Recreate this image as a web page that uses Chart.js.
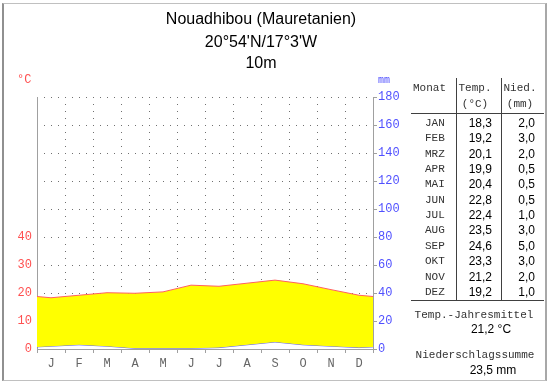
<!DOCTYPE html>
<html>
<head>
<meta charset="utf-8">
<script src="https://cdn.jsdelivr.net/npm/chart.js@4.4.0/dist/chart.umd.min.js"></script>
<style>
  body { margin: 0; background: #fff; }
  #wrap { position: relative; width: 550px; height: 384px; overflow: hidden; }
  #frame { position: absolute; left: 2px; top: 3px; width: 545px; height: 378px; box-sizing: border-box;
           border: 1px solid #c0c0c0; border-left: 2px solid #909090; border-right: 2px solid #a8a8a8; }
  #chart-box { position: absolute; left: 0; top: 0; width: 550px; height: 384px; }
  .t { position: absolute; white-space: nowrap; }
  .mono { font-family: "Liberation Mono", "DejaVu Sans Mono", monospace; font-size: 11px; color: #333; }
  .sans { font-family: "Liberation Sans", Arial, sans-serif; font-size: 12px; color: #000; }
  .title { font-family: "Liberation Sans", Arial, sans-serif; font-size: 16px; color: #000; left: 0; width: 522px; text-align: center; }
  .ln { position: absolute; background: #404040; }
</style>
</head>
<body>
<div id="wrap">
  <div id="chart-box"><canvas id="climate"></canvas></div>
  <div id="frame"></div>
  <div class="t title" style="top:8px;line-height:22px">Nouadhibou (Mauretanien)</div>
  <div class="t title" style="top:31px;line-height:22px">20°54'N/17°3'W</div>
  <div class="t title" style="top:52px;line-height:22px">10m</div>
  <div class="t mono" style="left:17px;top:73px;line-height:14px;font-size:12px;color:#ff5050">°C</div>
  <div class="t mono" style="left:378px;top:75px;line-height:12px;font-size:10px;color:#5050ff">mm</div>
  <div id="table"></div>
</div>

<script>
const months = ["J","F","M","A","M","J","J","A","S","O","N","D"]
const monthNames = ["JAN","FEB","MRZ","APR","MAI","JUN","JUL","AUG","SEP","OKT","NOV","DEZ"]
const temps = [18.3,19.2,20.1,19.9,20.4,22.8,22.4,23.5,24.6,23.3,21.2,19.2]
const precip = [2.0,3.0,2.0,0.5,0.5,0.5,1.0,3.0,5.0,3.0,2.0,1.0]
const tempTicks = [0,10,20,30,40]
const precipTicks = [0,20,40,60,80,100,120,140,160,180]
const meanTemp = "21,2 °C"
const precipSum = "23,5 mm"

// points at month centres, plus Dec before Jan and Jan after Dec so the curve runs to the edges
function wrapPoints(values){
  const pts = [{x: -0.5, y: values[11]}]
  values.forEach((v, i) => pts.push({x: i + 0.5, y: v}))
  pts.push({x: 12.5, y: values[0]})
  return pts
}

const fmt = v => v.toFixed(1).replace(".", ",")

// right hand table
const table = document.getElementById('table')
function put(text, cls, x, y, align, extra){
  const d = document.createElement('div')
  d.className = 't ' + cls
  d.textContent = text
  d.style.top = (y - 8) + 'px'
  d.style.lineHeight = '16px'
  if (align === 'right'){ d.style.left = (x - 120) + 'px'; d.style.width = '120px'; d.style.textAlign = 'right' }
  else if (align === 'center'){ d.style.left = (x - 80) + 'px'; d.style.width = '160px'; d.style.textAlign = 'center' }
  else d.style.left = x + 'px'
  if (extra) Object.assign(d.style, extra)
  table.appendChild(d)
}
function line(x, y, w, h){
  const d = document.createElement('div')
  d.className = 'ln'
  Object.assign(d.style, {left: x + 'px', top: y + 'px', width: w + 'px', height: h + 'px'})
  table.appendChild(d)
}

put("Monat", "mono", 413, 88)
put("Temp.", "mono", 475, 88, 'center')
put("(°C)", "mono", 475, 104, 'center')
put("Nied.", "mono", 520, 88, 'center')
put("(mm)", "mono", 520, 104, 'center')
monthNames.forEach((m, i) => {
  const y = 123 + i * 15.35
  put(m, "mono", 425, y)
  put(fmt(temps[i]), "sans", 492, y, 'right')
  put(fmt(precip[i]), "sans", 535, y, 'right')
})
put("Temp.-Jahresmittel", "mono", 474, 315, 'center')
put(meanTemp, "sans", 491, 329, 'center')
put("Niederschlagssumme", "mono", 475, 355, 'center')
put(precipSum, "sans", 493, 370, 'center')
line(411, 113, 133, 1)
line(411, 300, 133, 1)
line(456, 78, 1, 222)
line(501, 78, 1, 222)

const gridGray = "#707070"
const axisGray = "#a0a0a0"

new Chart("climate", {
  type: "line",
  data: {
    labels: months,
    datasets: [
      {label: "Temperatur", data: wrapPoints(temps), xAxisID: "xl", yAxisID: "yt",
       borderColor: "#ff6060", borderWidth: 1, pointRadius: 0, tension: 0,
       fill: {target: 1}, backgroundColor: "#ffff00"},
      {label: "Niederschlag", data: wrapPoints(precip), xAxisID: "xl", yAxisID: "y",
       borderColor: "#6060ff", borderWidth: 1, pointRadius: 0, tension: 0, fill: false}
    ]
  },
  options: {
    responsive: true, maintainAspectRatio: false, animation: false,
    layout: {padding: {top: 97, right: 137, bottom: 0, left: 0}},
    plugins: {legend: {display: false}, tooltip: {enabled: false}},
    scales: {
      x: {type: "category", offset: true,
          grid: {offset: true, color: gridGray, tickBorderDash: [], tickColor: axisGray, tickLength: 4, drawTicks: true},
          border: {color: axisGray, dash: [1, 6]},
          ticks: {color: "#666", padding: 4, maxRotation: 0, autoSkip: false, font: {family: "Liberation Mono", size: 12}},
          afterFit: s => { s.height = 35 }},
      xl: {type: "linear", min: 0, max: 12, display: false},
      yt: {position: "left", min: 0, max: 90,
           afterBuildTicks: s => { s.ticks = tempTicks.map(v => ({value: v})) },
           grid: {drawOnChartArea: false, drawTicks: false},
           border: {color: axisGray},
           ticks: {color: "#ff5050", padding: 5, font: {family: "Liberation Mono", size: 12}},
           afterFit: s => { s.width = 37 }},
      y: {position: "right", min: 0, max: 180,
          afterBuildTicks: s => { s.ticks = precipTicks.map(v => ({value: v})) },
          grid: {color: gridGray, tickBorderDash: [], tickColor: axisGray, tickLength: 4},
          border: {color: axisGray, dash: [1, 6]},
          ticks: {color: "#5050ff", padding: 1, font: {family: "Liberation Mono", size: 12}},
          afterFit: s => { s.width = 40 }}
    }
  }
});
</script>
</body>
</html>
